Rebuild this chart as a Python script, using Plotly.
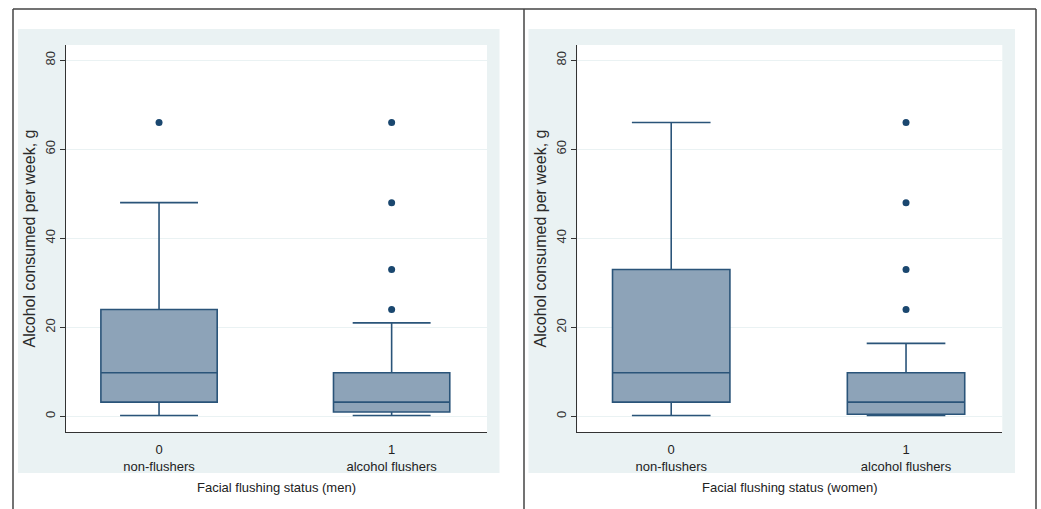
import plotly.graph_objects as go

# ---- data ----
groups = ["non-flushers", "alcohol flushers"]
group_codes = [0, 1]
panels = ["men", "women"]

men_lower = [0.2, 0.2]
men_q1 = [3.2, 1.0]
men_median = [9.8, 3.2]
men_q3 = [24.0, 9.8]
men_upper = [48.0, 21.0]
men_outliers_nonflush = [66.0]
men_outliers_flush = [66.0, 48.0, 33.0, 24.0]

women_lower = [0.2, 0.2]
women_q1 = [3.2, 0.5]
women_median = [9.8, 3.2]
women_q3 = [33.0, 9.8]
women_upper = [66.0, 16.4]
women_outliers_nonflush = []
women_outliers_flush = [66.0, 48.0, 33.0, 24.0]

y_ticks = [0, 20, 40, 60, 80]

# ---- styling ----
W, H = 1041, 509
FILL = "#8DA3B8"
LINE = "#2A5479"
DOT = "#1A476F"
BG = "#EAF2F3"
GRID = "#EAF2F3"
AX = "#333333"
TICKFONT = dict(family="Liberation Sans, Arial, sans-serif", size=13, color="#333333")
XFONT = dict(family="Liberation Sans Narrow, Liberation Sans, Arial Narrow, sans-serif", size=13, color="#222222")

def px_x(v):
    return v / W

def px_y(v):
    return 1 - v / H

fig = go.Figure()

panel_data = [
    (men_lower, men_q1, men_median, men_q3, men_upper, [men_outliers_nonflush, men_outliers_flush]),
    (women_lower, women_q1, women_median, women_q3, women_upper, [women_outliers_nonflush, women_outliers_flush]),
]

for i, (lo, q1, md, q3, up, outs) in enumerate(panel_data):
    xa = "x" if i == 0 else "x2"
    ya = "y" if i == 0 else "y2"
    fig.add_trace(go.Box(
        x=group_codes, q1=q1, median=md, q3=q3, lowerfence=lo, upperfence=up,
        width=0.5, whiskerwidth=0.67, fillcolor=FILL,
        line=dict(color=LINE, width=1.6), boxpoints=False,
        xaxis=xa, yaxis=ya, showlegend=False, hoverinfo="skip",
    ))
    for code, vals in zip(group_codes, outs):
        if vals:
            fig.add_trace(go.Scatter(
                x=[code] * len(vals), y=vals, mode="markers",
                marker=dict(color=DOT, size=7), xaxis=xa, yaxis=ya,
                showlegend=False, hoverinfo="skip",
            ))

dom1 = [px_x(66), px_x(487)]
dom2 = [px_x(577.3), px_x(1002.3)]
ydom = [px_y(432), px_y(45)]

ticktext = [f"{c}<br>{g}" for c, g in zip(group_codes, groups)]

for i, dom in enumerate([dom1, dom2]):
    sfx = "" if i == 0 else "2"
    fig.update_layout(**{
        f"xaxis{sfx}": dict(
            domain=dom, range=[-0.4, 1.41], tickvals=group_codes, ticktext=ticktext,
            showline=True, linecolor=AX, linewidth=1.3, ticks="", showgrid=False,
            zeroline=False, tickfont=XFONT, anchor="y" + sfx, ticklabelstandoff=5,
            title=dict(text=f"Facial flushing status ({panels[i]})", font=XFONT, standoff=10),
        ),
        f"yaxis{sfx}": dict(
            domain=ydom, range=[-3.5, 83.4], tickvals=y_ticks, tickangle=-90,
            showline=True, linecolor=AX, linewidth=1.3, ticks="outside", ticklen=5,
            tickcolor=AX, showgrid=True, gridcolor=GRID, gridwidth=1, zeroline=False,
            tickfont=TICKFONT, anchor="x" + sfx,
            title=dict(text="Alcohol consumed per week, g",
                       font=dict(family="Liberation Sans, Arial, sans-serif", size=16, color="#2a2a2a"),
                       standoff=3),
        ),
    })

shapes = []
# light panel backgrounds
for x0, x1 in [(18, 499.5), (528.5, 1015)]:
    shapes.append(dict(type="rect", xref="paper", yref="paper", layer="below",
                       x0=px_x(x0), x1=px_x(x1), y0=px_y(473), y1=px_y(29),
                       fillcolor=BG, line=dict(width=0)))
# white plot areas
for d in [dom1, dom2]:
    shapes.append(dict(type="rect", xref="paper", yref="paper", layer="below",
                       x0=d[0], x1=d[1], y0=ydom[0], y1=ydom[1],
                       fillcolor="white", line=dict(width=0)))
# outer black frame lines
BORDER = dict(color="#444444", width=1.5)
shapes.append(dict(type="line", xref="paper", yref="paper", x0=px_x(13), x1=px_x(1036),
                   y0=px_y(9), y1=px_y(9), line=BORDER))
for xv in [13, 524, 1036]:
    shapes.append(dict(type="line", xref="paper", yref="paper", x0=px_x(xv), x1=px_x(xv),
                       y0=px_y(9), y1=px_y(509), line=BORDER))

fig.update_layout(
    width=W, height=H, margin=dict(l=0, r=0, t=0, b=0),
    paper_bgcolor="white", plot_bgcolor="rgba(0,0,0,0)",
    shapes=shapes,
)

fig.write_html(
    "out.html",
    config={"displayModeBar": False},
    post_script="document.body.style.margin='0';document.body.style.overflow='hidden';",
)
